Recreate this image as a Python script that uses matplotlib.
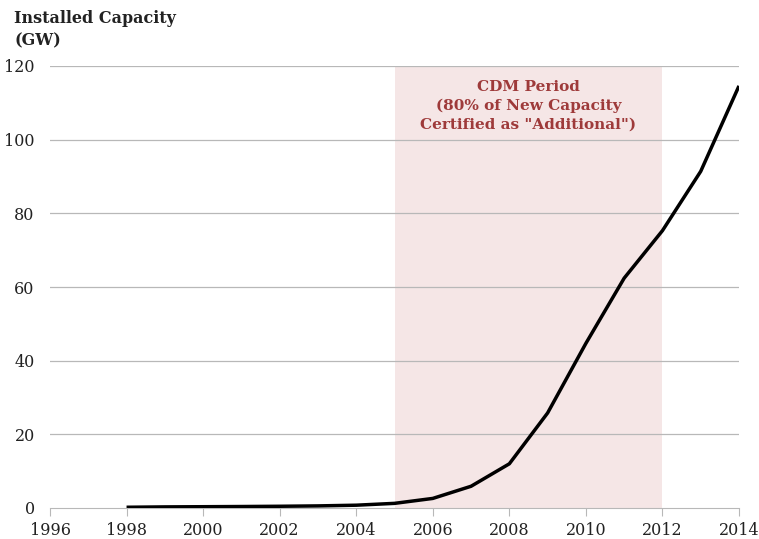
import matplotlib
matplotlib.use('Agg')
import matplotlib.pyplot as plt

years = [1998, 1999, 2000, 2001, 2002, 2003, 2004, 2005, 2006, 2007,
         2008, 2009, 2010, 2011, 2012, 2013, 2014]
capacity = [0.2, 0.3, 0.35, 0.4, 0.47, 0.57, 0.76, 1.26, 2.6, 5.9,
            12.0, 25.8, 44.7, 62.4, 75.3, 91.4, 114.6]
cdm_start = 2005
cdm_end = 2012
xticks = list(range(1996, 2015, 2))
yticks = list(range(0, 121, 20))

plt.rcParams['font.family'] = ['DejaVu Serif']

fig = plt.figure(figsize=(7.59, 5.39), dpi=100)
ax = fig.add_axes([50/759, 31/539, 689/759, 442/539])

ax.axvspan(cdm_start, cdm_end, color='#f5e6e6', zorder=0, lw=0)
for y in yticks[1:]:
    ax.axhline(y, color='#b8b8b8', lw=0.9, zorder=1)
ax.plot(years, capacity, color='black', lw=2.5, zorder=3, solid_capstyle='butt')

ax.set_xlim(1996, 2014)
ax.set_ylim(0, 120)
ax.set_xticks(xticks)
ax.set_yticks(yticks)
for s in ['top', 'right', 'left']:
    ax.spines[s].set_visible(False)
ax.spines['bottom'].set_color('#b8b8b8')
ax.tick_params(axis='x', colors='#b8b8b8', length=6, labelcolor='#222222', labelsize=11.5, pad=4)
ax.tick_params(axis='y', length=0, labelcolor='#222222', labelsize=11.5, pad=11)

ax.text((cdm_start + cdm_end) / 2, 116.2, 'CDM Period\n(80% of New Capacity\nCertified as "Additional")',
        ha='center', va='top', color='#9e3a3a', fontsize=11, fontweight='bold', linespacing=1.4)

fig.text(14/759, 1 - 10/539, 'Installed Capacity\n(GW)', ha='left', va='top',
         fontsize=11.5, fontweight='bold', color='#222222', linespacing=1.45)

fig.savefig('out.png', dpi=100)
